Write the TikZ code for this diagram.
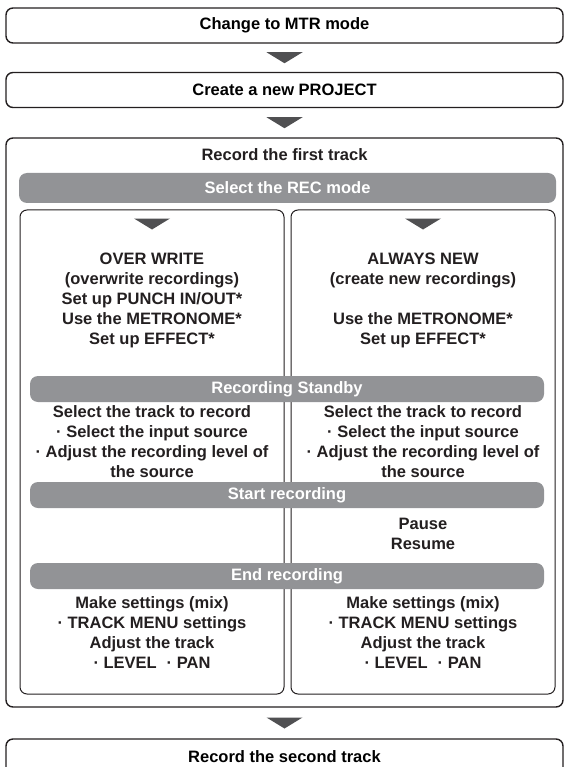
\documentclass[tikz,border=0pt]{standalone}
\usepackage{fontspec}
\setmainfont{Liberation Sans}
\usepackage{xcolor}
\usepackage{tikz}
\usetikzlibrary{calc,positioning}

\definecolor{inkblack}{RGB}{35,31,32}
\definecolor{bargray}{RGB}{146,147,150}
\definecolor{markgray}{RGB}{80,80,82}

% small filled triangle pointing down, centred on #1
\newcommand{\downmark}[1]{%
  \fill[markgray] ($#1+(-18,5.5)$) -- ++(36,0) -- ++(-18,-11) -- cycle;}

\begin{document}
\begin{tikzpicture}[x=1pt,y=1pt,
    font=\bfseries\fontsize{16.5}{20}\selectfont,
    stepbox/.style={draw=inkblack, line width=1.4pt, rounded corners=7pt,
      minimum width=557pt, minimum height=35pt, inner sep=0pt},
    modebox/.style={draw=inkblack, line width=1pt, rounded corners=7pt,
      minimum width=264pt, minimum height=484pt, inner sep=0pt},
    bar/.style={fill=bargray, text=white, rounded corners=8pt,
      minimum height=26pt, inner sep=0pt},
    steptext/.style={align=center, text=inkblack}]

		\useasboundingbox (0,0) rectangle (564,-767);
		\clip (0,0) rectangle (564,-767);
		
		\node[stepbox] (mtr) at (284.5,-25.5) {Change to MTR mode};
		\node[stepbox] (project) at (284.5,-90) {Create a new PROJECT};
		\node[stepbox, minimum height=569pt] (first) at (284.5,-422.5) {};
		\node[stepbox] (second) at (284.5,-756.5) {Record the second track};
		
		\downmark{(mtr.south)!0.5!(project.north)}
		\downmark{(project.south)!0.5!(first.north)}
		\downmark{(first.south)!0.5!(second.north)}
		
		\node[steptext] (firsttitle) at (284.5,-155) {Record the first track};
		\node[bar, minimum width=537pt, minimum height=30pt] (recmode) at (287.5,-188) {Select the REC mode};
		
		% the two REC modes
		\node[modebox] (overwrite) at (152,-452) {};
		\node[modebox] (alwaysnew) at (423,-452) {};
		
		\downmark{(overwrite.north)+(0,-14.5)}
		\downmark{(alwaysnew.north)+(0,-14.5)}
		
		\node[steptext] (owsetup) at (152,-300) {OVER WRITE\\(overwrite recordings)\\Set up PUNCH IN/OUT*\\Use the METRONOME*\\Set up EFFECT*};
		\node[steptext] (ansetup) at (423,-300) {ALWAYS NEW\\(create new recordings)\\[20pt]Use the METRONOME*\\Set up EFFECT*};
		
		\node[bar, minimum width=514pt] (standby) at (287,-389) {Recording Standby};
		\node[steptext] (owstandby) at (152,-442) {Select the track to record\\· Select the input source\\· Adjust the recording level of\\the source};
		\node[steptext] (anstandby) at (423,-442) {Select the track to record\\· Select the input source\\· Adjust the recording level of\\the source};
		
		\node[bar, minimum width=514pt] (start) at (287,-495) {Start recording};
		\node[steptext] (anpause) at (423,-534) {Pause\\Resume};
		
		\node[bar, minimum width=514pt] (stop) at (287,-576) {End recording};
		\node[steptext] (owmix) at (152,-633) {Make settings (mix)\\· TRACK MENU settings\\Adjust the track\\· LEVEL\hspace{0.6em}· PAN};
		\node[steptext] (anmix) at (423,-633) {Make settings (mix)\\· TRACK MENU settings\\Adjust the track\\· LEVEL\hspace{0.6em}· PAN};
	\end{tikzpicture}
\end{document}
